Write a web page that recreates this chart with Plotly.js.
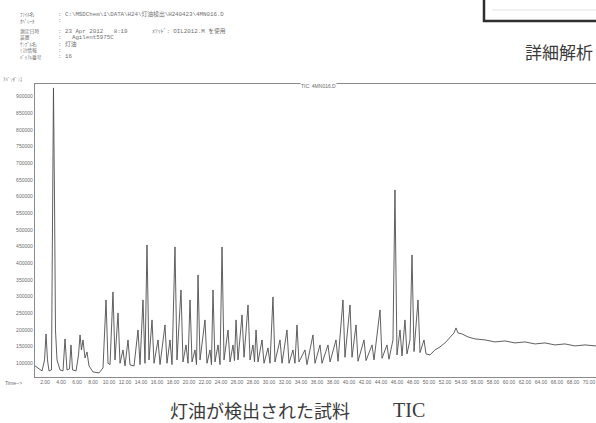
<!DOCTYPE html>
<html>
<head>
<meta charset="utf-8">
<script src="https://cdn.plot.ly/plotly-3.0.1.min.js"></script>
<style>
  html, body { margin: 0; padding: 0; background: #ffffff; }
  #chart { width: 596px; height: 423px; }
</style>
</head>
<body>
<div id="chart"></div>
<script>
// Total ion chromatogram: retention time (min) and abundance, vertex by vertex
const retentionTime = [
  0.75, 1.13, 1.63, 1.94, 2.13, 2.31, 2.50, 2.81, 2.94, 3.06, 3.19, 3.31, 3.50, 3.88,
  4.25, 4.50, 4.75, 5.06, 5.25, 5.44, 5.88, 6.19, 6.38, 6.56, 6.75, 7.00, 7.25, 7.50,
  8.00, 8.75, 9.25, 9.63, 9.88, 10.13, 10.50, 10.75, 11.13, 11.38, 11.75, 12.00, 12.38,
  12.63, 13.13, 13.63, 13.88, 14.25, 14.50, 14.75, 15.00, 15.38, 15.63, 16.13, 16.38,
  17.00, 17.25, 17.63, 17.88, 18.25, 18.50, 19.00, 19.25, 19.63, 19.88, 20.13, 20.38,
  20.75, 20.94, 21.13, 21.38, 22.00, 22.25, 22.63, 22.81, 23.00, 23.25, 23.63, 23.88,
  24.13, 24.38, 24.88, 25.13, 25.50, 25.69, 25.88, 26.13, 26.63, 26.88, 27.38, 27.63,
  28.00, 28.19, 28.38, 28.63, 29.13, 29.38, 29.88, 30.13, 30.50, 30.75, 31.38, 31.63,
  32.25, 32.50, 33.00, 33.25, 33.50, 33.75, 34.50, 34.75, 35.50, 35.75, 36.38, 36.63,
  37.38, 37.63, 38.38, 38.63, 39.25, 39.50, 40.13, 40.38, 40.88, 41.13, 41.88, 42.13,
  42.88, 43.13, 43.88, 44.13, 44.75, 45.00, 45.50, 45.75, 46.00, 46.38, 46.63, 47.00,
  47.25, 47.63, 47.88, 48.13, 48.63, 48.88, 49.38, 49.63, 50.13, 50.75, 51.38, 52.00,
  52.63, 53.13, 53.38, 53.63, 54.13, 54.88, 55.75, 57.00, 58.25, 59.50, 60.75, 62.00,
  63.25, 64.50, 65.75, 67.00, 68.25, 69.50, 70.88
];
const abundance = [
  92000, 86000, 77000, 110000, 188000, 110000, 77000, 80000, 440000, 926000, 590000, 200000, 110000, 80000,
  77000, 173000, 80000, 83000, 155000, 80000, 77000, 125000, 185000, 140000, 170000, 116000, 134000, 92000,
  74000, 71000, 86000, 290000, 100000, 96000, 314000, 110000, 251000, 100000, 140000, 92000, 170000,
  95000, 92000, 200000, 96000, 290000, 100000, 455000, 110000, 230000, 100000, 170000, 96000,
  215000, 100000, 170000, 96000, 449000, 110000, 320000, 104000, 155000, 100000, 290000, 104000,
  140000, 96000, 365000, 110000, 230000, 100000, 140000, 96000, 320000, 104000, 155000, 96000,
  449000, 110000, 200000, 104000, 155000, 108000, 230000, 110000, 245000, 118000, 275000, 110000,
  155000, 104000, 200000, 104000, 170000, 100000, 146000, 100000, 299000, 104000, 170000, 100000,
  200000, 100000, 140000, 100000, 215000, 104000, 140000, 96000, 185000, 100000, 155000, 100000,
  155000, 104000, 170000, 106000, 290000, 118000, 275000, 118000, 215000, 106000, 170000, 108000,
  155000, 110000, 260000, 115000, 155000, 112000, 170000, 620000, 125000, 200000, 122000, 230000,
  128000, 170000, 425000, 135000, 290000, 132000, 170000, 128000, 125000, 140000, 149000, 161000,
  176000, 191000, 206000, 191000, 188000, 179000, 173000, 170000, 164000, 167000, 161000, 164000,
  158000, 161000, 155000, 158000, 152000, 155000, 152000
];

// Axis ticks
const timeTicks = [2, 4, 6, 8, 10, 12, 14, 16, 18, 20, 22, 24, 26, 28, 30, 32, 34, 36,
  38, 40, 42, 44, 46, 48, 50, 52, 54, 56, 58, 60, 62, 64, 66, 68, 70];
const abundanceTicks = [100000, 150000, 200000, 250000, 300000, 350000, 400000, 450000,
  500000, 550000, 600000, 650000, 700000, 750000, 800000, 850000, 900000];

// Report header
const headerLabels = ['ﾌｧｲﾙ名', 'ｵﾍﾟﾚｰﾀ', '測定日時', '装置', 'ｻﾝﾌﾟﾙ名', 'ﾐｽｸ情報', 'ﾊﾞｲｱﾙ番号'];
const headerValues = [
  'C:\\MSDChem\\1\\DATA\\H24\\灯油検出\\H240423\\4MN016.D',
  '',
  '23 Apr 2012   8:19       ﾒｿｯﾄﾞ: OIL2012.M を使用',
  '  Agilent5975C',
  '灯油',
  '',
  '16'
];
const chartTitle = 'TIC: 4MN016.D';
const captionText = '灯油が検出された試料';
const captionTag = 'TIC';
const sideHeading = '詳細解析';

// Plot frame in page pixels
const plotLeft = 35, plotRight = 596, plotTop = 84, plotBottom = 377;
const fx = x => (x - plotLeft) / (plotRight - plotLeft);
const fy = y => (plotBottom - y) / (plotBottom - plotTop);

const ink = '#4e4e4e';
const small = { family: 'Liberation Sans, DejaVu Sans, sans-serif', size: 5, color: '#6a6a6a' };
const labelFont = { family: 'Noto Sans CJK JP, Liberation Sans, sans-serif', size: 4.8, color: '#707070' };
const valueFont = { family: 'Liberation Mono, Noto Sans CJK JP, monospace', size: 5.8, color: '#707070' };

const headerYs = [14, 20.5, 31, 37.5, 44, 50.5, 57];
const annotations = [];
headerLabels.forEach((label, i) => {
  annotations.push({ xref: 'paper', yref: 'paper', x: fx(19), y: fy(headerYs[i]),
    xanchor: 'left', yanchor: 'middle', text: label, showarrow: false, font: labelFont, borderpad: 0 });
  annotations.push({ xref: 'paper', yref: 'paper', x: fx(57), y: fy(headerYs[i]),
    xanchor: 'left', yanchor: 'middle', text: ': ' + headerValues[i], showarrow: false, font: valueFont, borderpad: 0 });
});

annotations.push(
  { xref: 'paper', yref: 'paper', x: fx(2), y: fy(79), xanchor: 'left', yanchor: 'middle',
    text: 'ｱﾊﾞﾝﾀﾞﾝｽ', showarrow: false, font: labelFont, borderpad: 0 },
  { xref: 'paper', yref: 'paper', x: fx(4), y: fy(383), xanchor: 'left', yanchor: 'middle',
    text: 'Time-->', showarrow: false, font: small, borderpad: 0 },
  { xref: 'paper', yref: 'paper', x: fx(318), y: fy(86), xanchor: 'center', yanchor: 'middle',
    text: chartTitle, showarrow: false, font: small, bgcolor: '#ffffff', borderpad: 0 },
  { xref: 'paper', yref: 'paper', x: fx(594), y: fy(51), xanchor: 'right', yanchor: 'middle',
    text: sideHeading, showarrow: false, borderpad: 0,
    font: { family: 'Noto Sans CJK JP, sans-serif', size: 17, color: '#3a3a3a' } },
  { xref: 'paper', yref: 'paper', x: fx(169), y: fy(410), xanchor: 'left', yanchor: 'middle',
    text: captionText, showarrow: false, borderpad: 0,
    font: { family: 'Noto Sans CJK JP, sans-serif', size: 18, color: '#3a3a3a' } },
  { xref: 'paper', yref: 'paper', x: fx(392), y: fy(410), xanchor: 'left', yanchor: 'middle',
    text: captionTag, showarrow: false, borderpad: 0,
    font: { family: 'Liberation Serif, DejaVu Serif, serif', size: 20, color: '#3a3a3a' } }
);

const shapes = [
  { type: 'rect', xref: 'paper', yref: 'paper', x0: fx(484), x1: fx(604), y0: fy(21), y1: fy(-6),
    line: { color: '#2e2e2e', width: 2.5 }, fillcolor: 'rgba(0,0,0,0)' },
  { type: 'line', xref: 'paper', yref: 'paper', x0: fx(492), x1: fx(596), y0: fy(10), y1: fy(10),
    line: { color: '#e2e2e2', width: 1 } }
];

const trace = {
  type: 'scatter',
  mode: 'lines',
  x: retentionTime,
  y: abundance,
  line: { color: ink, width: 0.9 },
  hoverinfo: 'skip'
};

const layout = {
  width: 596,
  height: 423,
  margin: { l: plotLeft, r: 596 - plotRight, t: plotTop, b: 423 - plotBottom, pad: 0 },
  paper_bgcolor: '#ffffff',
  plot_bgcolor: '#ffffff',
  showlegend: false,
  xaxis: {
    range: [0.75, 70.88],
    tickvals: timeTicks,
    ticktext: timeTicks.map(v => v.toFixed(2)),
    tickangle: 0,
    ticks: '',
    showgrid: false,
    zeroline: false,
    showline: true,
    mirror: true,
    linecolor: '#8a8a8a',
    linewidth: 1.2,
    tickfont: small,
    fixedrange: true
  },
  yaxis: {
    range: [58800, 937800],
    tickvals: abundanceTicks,
    ticktext: abundanceTicks.map(v => String(v)),
    ticks: '',
    showgrid: false,
    zeroline: false,
    showline: true,
    linecolor: '#8a8a8a',
    linewidth: 1.2,
    tickfont: small,
    fixedrange: true
  },
  annotations: annotations,
  shapes: shapes
};

Plotly.newPlot('chart', [trace], layout, { staticPlot: true, displayModeBar: false });
</script>
</body>
</html>
